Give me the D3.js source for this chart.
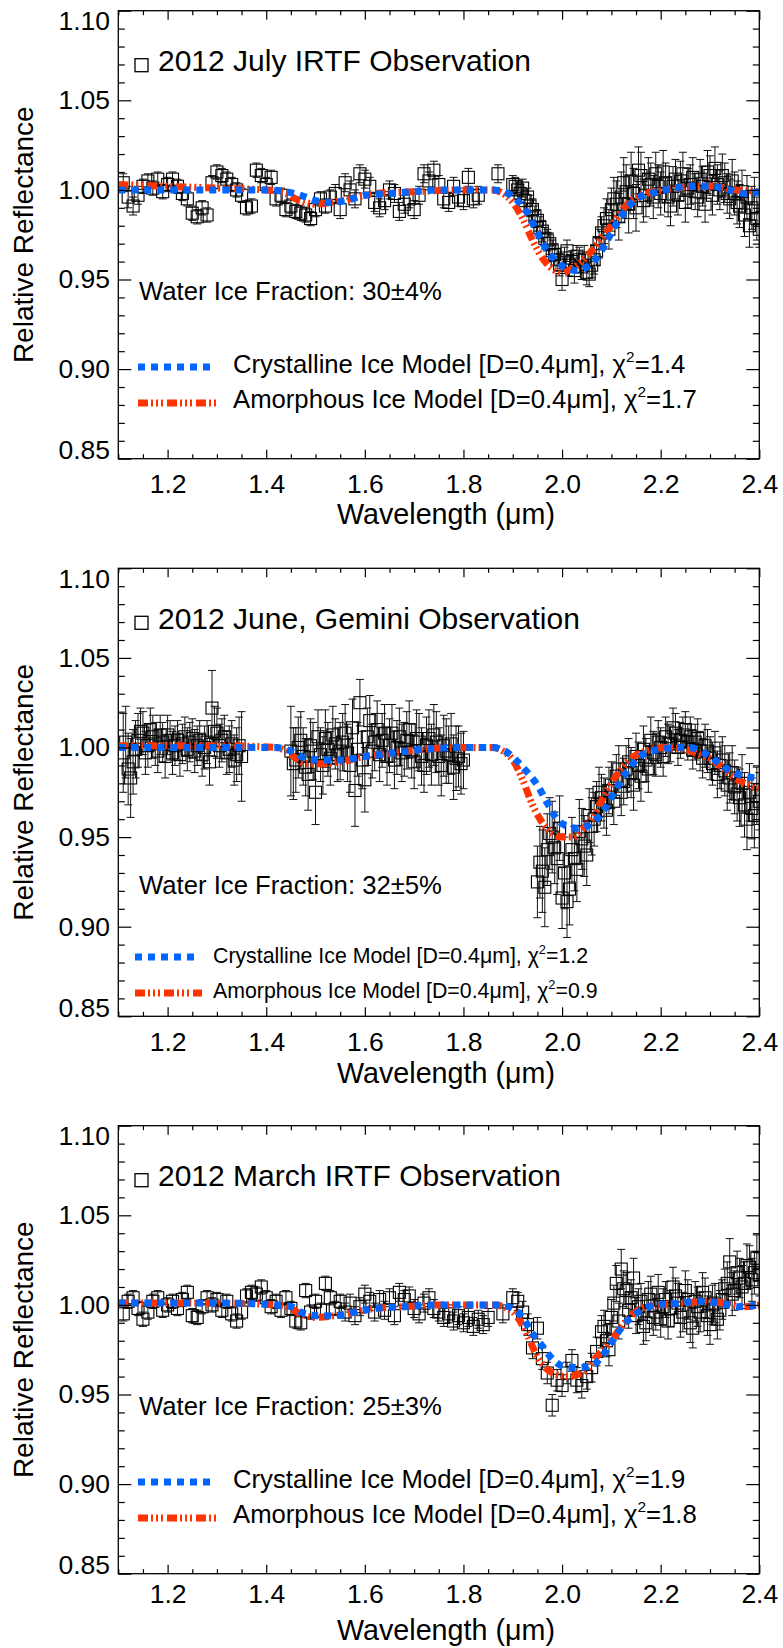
<!DOCTYPE html>
<html>
<head>
<meta charset="utf-8"/>
<style>
body { margin: 0; background: #fff; }
svg { display: block; font-family: "Liberation Sans", Arial, Helvetica, sans-serif; }
</style>
</head>
<body>
<svg id="chart" width="783" height="1648"></svg>
<script src="https://cdn.jsdelivr.net/npm/d3@7/dist/d3.min.js"></script>
<script>
// observed spectra: [wavelength (um), relative reflectance, 1-sigma error]
const julyObs = [
  [1.11,1.004,.005],[1.12,0.996,.006],[1.13,0.991,.005],[1.14,0.997,.005],[1.15,1.002,.004],[1.16,1.005,.004],
  [1.17,1.001,.004],[1.18,1.006,.004],[1.19,0.999,.004],[1.20,1.003,.004],[1.21,1.006,.004],[1.22,1.002,.004],
  [1.23,0.998,.004],[1.24,0.995,.004],[1.25,0.987,.004],[1.26,0.985,.004],[1.27,0.990,.004],[1.28,0.986,.004],
  [1.29,1.004,.004],[1.30,1.010,.004],[1.31,1.008,.004],[1.32,1.006,.004],[1.33,1.003,.004],[1.34,1.000,.004],
  [1.35,0.997,.004],[1.36,0.990,.004],[1.37,0.991,.004],[1.38,1.011,.004],[1.39,1.008,.004],[1.40,1.003,.004],
  [1.41,1.007,.004],[1.42,0.995,.004],[1.43,0.997,.004],[1.44,0.989,.004],[1.45,0.991,.004],[1.46,0.988,.004],
  [1.47,0.987,.004],[1.48,0.986,.004],[1.49,0.984,.004],[1.50,0.989,.004],[1.51,0.995,.004],[1.52,0.991,.004],
  [1.53,0.996,.004],[1.54,0.998,.005],[1.55,0.989,.005],[1.56,1.004,.005],[1.57,1.000,.005],[1.58,0.995,.005],
  [1.59,1.009,.005],[1.60,1.006,.005],[1.61,1.002,.005],[1.62,0.993,.005],[1.63,0.990,.005],[1.64,0.994,.005],
  [1.65,1.000,.005],[1.66,0.998,.005],[1.67,0.988,.005],[1.68,0.992,.005],[1.69,0.995,.005],[1.70,0.989,.005],
  [1.71,0.997,.005],[1.72,1.009,.005],[1.73,1.005,.005],[1.74,1.011,.005],[1.75,1.003,.005],[1.76,0.995,.005],
  [1.77,0.993,.005],[1.78,1.002,.005],[1.79,0.996,.005],[1.80,0.994,.005],[1.81,1.007,.005],[1.82,0.995,.005],
  [1.83,0.997,.005],[1.87,1.009,.005],[1.90,1.003,.005],[1.91,1.000,.005],[1.92,1.001,.005],[1.93,0.996,.005],
  [1.94,0.989,.006],[1.95,0.983,.006],[1.96,0.977,.006],[1.97,0.972,.006],[1.98,0.966,.006],[1.99,0.961,.006],
  [2.00,0.950,.006],[2.01,0.966,.006],[2.02,0.960,.006],[2.03,0.963,.006],[2.04,0.957,.007],[2.05,0.954,.007],
  [2.06,0.958,.007],[2.07,0.966,.008],[2.08,0.976,.009],[2.09,0.984,.011],[2.10,0.989,.012],[2.11,0.992,.013],
  [2.12,0.996,.014],[2.13,0.999,.015],[2.14,1.005,.016],[2.15,0.990,.013],[2.16,1.008,.013],[2.17,0.997,.012],
  [2.18,1.003,.012],[2.19,1.009,.012],[2.20,0.998,.012],[2.21,1.004,.011],[2.22,0.991,.011],[2.23,1.006,.011],
  [2.24,1.005,.011],[2.25,0.993,.011],[2.26,1.003,.011],[2.27,0.999,.010],[2.28,1.006,.011],[2.29,0.992,.010],
  [2.30,1.008,.011],[2.31,1.012,.012],[2.32,1.000,.011],[2.33,1.004,.011],[2.34,0.995,.011],[2.35,0.998,.012],
  [2.36,0.991,.012],[2.37,0.986,.012],[2.38,0.980,.012],[2.39,0.995,.012],[2.40,0.978,.010],
  // interleaved half-step samples
  [1.905,1.002,.005],[1.915,0.998,.005],[1.925,0.994,.006],[1.935,0.991,.006],[1.945,0.985,.006],[1.955,0.979,.006],
  [1.965,0.973,.006],[1.975,0.970,.006],[1.985,0.964,.006],[1.995,0.958,.006],[2.005,0.962,.006],[2.015,0.958,.006],
  [2.025,0.955,.007],[2.035,0.961,.007],[2.045,0.962,.007],[2.055,0.953,.007],[2.065,0.961,.008],[2.075,0.970,.008],
  [2.085,0.980,.010],[2.095,0.978,.011],[2.105,0.995,.012],[2.115,0.985,.013],[2.125,1.004,.014],[2.135,0.992,.016],
  [2.145,0.998,.014],[2.155,1.011,.013],[2.165,0.994,.012],[2.175,1.006,.012],[2.185,0.996,.012],[2.195,1.002,.012],
  [2.205,1.010,.012],[2.215,0.996,.011],[2.225,1.002,.011],[2.235,0.997,.011],[2.245,1.009,.012],[2.255,1.001,.011],
  [2.265,1.007,.011],[2.275,0.996,.011],[2.285,1.002,.011],[2.295,1.010,.012],[2.305,0.997,.011],[2.315,1.003,.011],
  [2.325,1.008,.012],[2.335,0.998,.011],[2.345,1.005,.012],[2.355,0.993,.012],[2.365,0.999,.012],[2.375,0.996,.012],
  [2.385,0.990,.012],[2.395,0.984,.012]
];
const juneObs = [
  [1.11,0.997,.022],[1.12,0.988,.020],[1.13,0.992,.018],[1.14,1.004,.015],[1.15,1.008,.012],[1.16,1.001,.012],
  [1.17,1.006,.012],[1.18,0.998,.012],[1.19,1.003,.011],[1.20,1.007,.011],[1.21,0.997,.012],[1.22,1.004,.011],
  [1.23,1.002,.011],[1.24,0.999,.012],[1.25,1.005,.011],[1.26,1.001,.011],[1.27,0.996,.012],[1.28,1.003,.012],
  [1.29,1.022,.021],[1.30,1.008,.014],[1.31,1.004,.012],[1.32,0.997,.012],[1.33,1.002,.013],[1.34,0.996,.015],
  [1.35,0.995,.025],
  [1.45,0.998,.025],[1.46,0.993,.018],[1.47,1.004,.016],[1.48,0.989,.016],[1.49,1.001,.015],[1.50,0.975,.018],
  [1.51,0.996,.015],[1.52,1.005,.016],[1.53,0.994,.015],[1.54,1.002,.014],[1.55,0.998,.016],[1.56,1.008,.016],
  [1.57,0.990,.015],[1.58,0.976,.020],[1.59,1.025,.013],[1.60,0.982,.018],[1.61,1.015,.014],[1.62,1.003,.016],
  [1.63,0.996,.015],[1.64,1.008,.016],[1.65,1.001,.015],[1.66,0.993,.016],[1.67,1.006,.016],[1.68,0.999,.015],
  [1.69,1.010,.016],[1.70,0.992,.015],[1.71,1.003,.016],[1.72,0.990,.015],[1.73,1.005,.016],[1.74,1.007,.017],
  [1.75,0.995,.016],[1.76,1.001,.017],[1.77,0.996,.016],[1.78,0.989,.018],[1.79,0.995,.017],[1.80,0.993,.016],
  [1.95,0.925,.020],[1.96,0.931,.023],[1.97,0.943,.020],[1.98,0.950,.020],[1.99,0.938,.020],[2.00,0.916,.017],
  [2.01,0.914,.020],[2.02,0.943,.018],[2.03,0.932,.018],[2.04,0.949,.017],[2.05,0.940,.017],[2.06,0.956,.016],
  [2.07,0.967,.014],[2.08,0.972,.013],[2.09,0.965,.014],[2.10,0.979,.013],[2.11,0.984,.012],[2.12,0.975,.013],
  [2.13,0.988,.013],[2.14,0.986,.014],[2.15,0.995,.013],[2.16,0.984,.014],[2.17,0.993,.012],[2.18,1.004,.013],
  [2.19,0.996,.012],[2.20,1.000,.011],[2.21,1.006,.011],[2.22,1.002,.010],[2.23,1.008,.011],[2.24,1.004,.010],
  [2.25,1.010,.010],[2.26,1.006,.011],[2.27,1.003,.010],[2.28,0.998,.011],[2.29,1.001,.012],[2.30,0.994,.012],
  [2.31,0.997,.012],[2.32,0.990,.013],[2.33,0.987,.014],[2.34,0.983,.014],[2.35,0.978,.015],[2.36,0.972,.016],
  [2.37,0.968,.018],[2.38,0.975,.016],[2.39,0.962,.018],[2.40,0.970,.016],
  // interleaved half-step samples
  [1.115,1.003,.020],[1.125,0.983,.022],[1.135,0.999,.016],[1.145,1.009,.013],[1.155,0.997,.012],[1.165,1.010,.012],
  [1.175,1.002,.012],[1.185,1.007,.011],[1.195,0.995,.012],[1.205,1.004,.011],[1.215,1.001,.011],[1.225,0.996,.012],
  [1.235,1.006,.011],[1.245,1.003,.011],[1.255,0.998,.012],[1.265,1.004,.011],[1.275,1.000,.012],[1.285,0.992,.013],
  [1.295,1.009,.014],[1.305,1.001,.012],[1.315,1.006,.012],[1.325,0.999,.013],[1.335,0.993,.014],[1.345,1.001,.016],
  [1.455,0.991,.020],[1.465,1.000,.017],[1.475,0.995,.016],[1.485,0.985,.020],[1.495,0.998,.016],[1.505,1.006,.015],
  [1.515,0.990,.016],[1.525,0.999,.015],[1.535,1.007,.016],[1.545,0.996,.015],[1.555,1.003,.016],[1.565,0.997,.016],
  [1.575,1.011,.016],[1.585,0.999,.015],[1.595,0.993,.016],[1.605,1.006,.016],[1.615,0.998,.015],[1.625,1.010,.016],
  [1.635,1.004,.015],[1.645,0.995,.016],[1.655,1.008,.016],[1.665,1.000,.015],[1.675,0.997,.016],[1.685,1.004,.016],
  [1.695,0.998,.015],[1.705,1.005,.016],[1.715,0.995,.016],[1.725,1.001,.016],[1.735,0.996,.017],[1.745,1.003,.017],
  [1.755,0.990,.017],[1.765,0.998,.018],[1.775,1.002,.017],[1.785,0.994,.018],[1.795,0.991,.017],
  [1.955,0.936,.020],[1.965,0.922,.022],[1.975,0.952,.020],[1.985,0.944,.020],[1.995,0.955,.018],[2.005,0.930,.020],
  [2.015,0.921,.020],[2.025,0.938,.018],[2.035,0.953,.018],[2.045,0.945,.017],[2.055,0.962,.015],[2.065,0.960,.015],
  [2.075,0.975,.014],[2.085,0.969,.014],[2.095,0.976,.013],[2.105,0.970,.013],[2.115,0.988,.013],[2.125,0.981,.013],
  [2.135,0.992,.013],[2.145,0.979,.014],[2.155,0.990,.013],[2.165,0.999,.013],[2.175,0.988,.013],[2.185,0.997,.012],
  [2.195,1.003,.012],[2.205,0.995,.011],[2.215,1.002,.011],[2.225,1.011,.011],[2.235,1.000,.010],[2.245,1.007,.010],
  [2.255,1.003,.010],[2.265,0.999,.011],[2.275,1.005,.011],[2.285,0.994,.011],[2.295,0.998,.012],[2.305,0.991,.012],
  [2.315,0.985,.013],[2.325,0.993,.013],[2.335,0.979,.014],[2.345,0.986,.015],[2.355,0.974,.015],[2.365,0.980,.016],
  [2.375,0.960,.017],[2.385,0.966,.017],[2.395,0.973,.016]
];
const marchObs = [
  [1.11,0.995,.004],[1.12,1.002,.004],[1.13,1.004,.004],[1.14,0.998,.004],[1.15,0.992,.004],[1.16,0.996,.004],
  [1.17,1.002,.004],[1.18,1.004,.004],[1.19,0.997,.004],[1.20,1.000,.004],[1.21,1.002,.004],[1.22,0.998,.004],
  [1.23,1.003,.004],[1.24,1.007,.004],[1.25,0.994,.004],[1.26,0.993,.004],[1.27,0.999,.004],[1.28,1.004,.004],
  [1.29,1.000,.004],[1.30,1.003,.004],[1.31,0.997,.004],[1.32,1.002,.004],[1.33,0.995,.004],[1.34,0.991,.004],
  [1.35,0.996,.004],[1.36,1.005,.004],[1.37,1.007,.004],[1.38,1.006,.004],[1.39,1.010,.004],[1.40,1.004,.004],
  [1.41,0.999,.004],[1.42,1.002,.004],[1.43,0.997,.004],[1.44,1.004,.004],[1.45,0.998,.004],[1.46,0.991,.004],
  [1.47,0.990,.004],[1.48,1.008,.004],[1.49,0.996,.004],[1.50,1.002,.004],[1.51,0.997,.004],[1.52,1.012,.004],
  [1.53,1.004,.004],[1.54,0.998,.004],[1.55,1.002,.004],[1.56,0.996,.005],[1.57,1.001,.005],[1.58,0.994,.005],
  [1.59,0.999,.005],[1.60,1.006,.005],[1.61,1.002,.005],[1.62,0.996,.005],[1.63,1.003,.005],[1.64,0.997,.005],
  [1.65,1.004,.005],[1.66,0.994,.005],[1.67,1.007,.005],[1.68,1.003,.005],[1.69,1.005,.005],[1.70,0.998,.005],
  [1.71,0.995,.005],[1.72,1.001,.005],[1.73,1.004,.005],[1.74,0.998,.005],[1.75,0.996,.005],[1.76,0.993,.005],
  [1.77,0.995,.005],[1.78,0.991,.005],[1.79,0.994,.005],[1.80,0.990,.005],[1.81,0.993,.005],[1.82,0.988,.005],
  [1.83,0.992,.005],[1.84,0.989,.005],[1.85,0.993,.005],[1.88,0.995,.005],[1.90,1.004,.005],[1.91,1.002,.005],
  [1.92,0.996,.006],[1.93,0.989,.006],[1.94,0.976,.006],[1.95,0.987,.006],[1.96,0.970,.006],[1.97,0.962,.006],
  [1.98,0.944,.006],[1.99,0.958,.006],[2.00,0.955,.006],[2.01,0.962,.006],[2.02,0.969,.006],[2.03,0.958,.007],
  [2.04,0.955,.007],[2.05,0.960,.007],[2.06,0.965,.008],[2.07,0.974,.008],[2.08,0.985,.009],[2.09,0.980,.009],
  [2.10,0.993,.010],[2.11,1.012,.010],[2.12,1.020,.011],[2.13,1.008,.010],[2.14,1.004,.010],[2.15,0.994,.010],
  [2.16,1.002,.010],[2.17,0.990,.010],[2.18,1.006,.010],[2.19,0.996,.010],[2.20,0.992,.010],[2.21,1.003,.010],
  [2.22,0.998,.010],[2.23,1.005,.010],[2.24,0.993,.011],[2.25,1.008,.011],[2.26,0.990,.011],[2.27,1.002,.011],
  [2.28,0.996,.011],[2.29,1.004,.011],[2.30,0.989,.011],[2.31,1.001,.011],[2.32,0.997,.011],[2.33,1.009,.011],
  [2.34,1.024,.013],[2.35,1.008,.011],[2.36,1.015,.011],[2.37,1.012,.012],[2.38,1.021,.012],[2.39,1.018,.012],
  [2.40,1.017,.012],
  // interleaved half-step samples
  [2.085,0.988,.009],[2.095,0.975,.009],[2.105,1.001,.010],[2.115,0.991,.010],[2.125,1.009,.010],[2.135,0.997,.010],
  [2.145,1.015,.011],[2.155,0.999,.010],[2.165,0.988,.010],[2.175,1.003,.010],[2.185,0.993,.010],[2.195,1.007,.010],
  [2.205,0.999,.010],[2.215,0.991,.010],[2.225,1.010,.011],[2.235,1.001,.011],[2.245,0.996,.011],[2.255,1.003,.011],
  [2.265,0.987,.011],[2.275,0.999,.011],[2.285,1.007,.011],[2.295,0.994,.011],[2.305,1.000,.011],[2.315,0.992,.011],
  [2.325,1.003,.011],[2.335,1.012,.012],[2.345,1.006,.012],[2.355,1.018,.012],[2.365,1.010,.012],[2.375,1.022,.012],
  [2.385,1.014,.012],[2.395,1.026,.013]
];

// model spectra: [wavelength (um), relative reflectance]
const julyCrys = [
  [1.10,1.000],[1.20,1.000],[1.30,1.000],[1.40,1.000],[1.44,0.999],[1.47,0.997],[1.50,0.994],[1.53,0.993],
  [1.56,0.994],[1.60,0.997],[1.65,0.998],[1.70,0.999],[1.75,1.000],[1.86,1.000],[1.89,0.998],[1.91,0.994],
  [1.93,0.987],[1.95,0.976],[1.97,0.966],[1.99,0.960],[2.01,0.956],[2.03,0.955],[2.05,0.957],[2.07,0.962],
  [2.09,0.971],[2.11,0.981],[2.13,0.989],[2.15,0.995],[2.18,0.998],[2.21,1.000],[2.26,1.002],[2.30,1.002],
  [2.34,1.000],[2.37,0.998],[2.40,0.999]
];
const julyAmor = [
  [1.10,1.003],[1.20,1.002],[1.30,1.001],[1.40,1.000],[1.44,0.998],[1.46,0.995],[1.48,0.993],[1.50,0.992],
  [1.53,0.993],[1.57,0.995],[1.62,0.998],[1.70,0.999],[1.80,1.000],[1.86,1.000],[1.88,0.998],[1.90,0.993],
  [1.92,0.984],[1.94,0.972],[1.96,0.962],[1.98,0.956],[2.00,0.954],[2.02,0.956],[2.04,0.960],[2.06,0.966],
  [2.08,0.973],[2.10,0.980],[2.12,0.988],[2.14,0.994],[2.17,0.998],[2.21,1.000],[2.27,1.002],[2.31,1.002],
  [2.35,1.000],[2.40,0.999]
];
const juneCrys = [
  [1.10,1.000],[1.30,1.000],[1.42,1.000],[1.45,0.998],[1.48,0.994],[1.51,0.993],[1.55,0.993],[1.60,0.995],
  [1.66,0.997],[1.72,0.999],[1.80,1.000],[1.86,1.000],[1.89,0.997],[1.91,0.992],[1.93,0.986],[1.95,0.979],
  [1.97,0.969],[1.99,0.960],[2.01,0.956],[2.03,0.955],[2.05,0.956],[2.07,0.960],[2.09,0.967],[2.11,0.977],
  [2.13,0.986],[2.15,0.993],[2.17,0.997],[2.20,0.999],[2.23,1.000],[2.26,1.000],[2.28,0.998],[2.30,0.995],
  [2.32,0.991],[2.34,0.987],[2.37,0.984],[2.40,0.983]
];
const juneAmor = [
  [1.10,1.001],[1.30,1.001],[1.42,1.000],[1.44,0.998],[1.46,0.994],[1.48,0.991],[1.51,0.991],[1.55,0.992],
  [1.60,0.995],[1.66,0.997],[1.72,0.999],[1.80,1.000],[1.86,1.000],[1.88,0.998],[1.90,0.993],[1.92,0.982],
  [1.94,0.968],[1.96,0.958],[1.98,0.952],[2.00,0.950],[2.02,0.950],[2.04,0.954],[2.06,0.960],[2.08,0.970],
  [2.10,0.980],[2.12,0.988],[2.14,0.994],[2.17,0.998],[2.21,1.000],[2.25,0.999],[2.28,0.996],[2.30,0.994],
  [2.32,0.990],[2.35,0.983],[2.38,0.979],[2.40,0.977]
];
const marchCrys = [
  [1.10,1.001],[1.30,1.001],[1.42,1.000],[1.45,0.999],[1.47,0.996],[1.50,0.994],[1.54,0.994],[1.58,0.996],
  [1.62,0.998],[1.68,0.999],[1.75,1.000],[1.87,1.000],[1.90,0.998],[1.92,0.993],[1.94,0.984],[1.96,0.977],
  [1.98,0.970],[2.00,0.966],[2.03,0.965],[2.06,0.966],[2.08,0.971],[2.10,0.979],[2.12,0.987],[2.14,0.993],
  [2.16,0.997],[2.19,1.000],[2.24,1.001],[2.28,1.002],[2.32,1.001],[2.36,0.999],[2.40,1.000]
];
const marchAmor = [
  [1.10,1.001],[1.30,1.001],[1.42,1.000],[1.45,0.998],[1.47,0.995],[1.50,0.993],[1.54,0.994],[1.58,0.996],
  [1.62,0.998],[1.68,0.999],[1.75,1.000],[1.86,1.000],[1.89,0.998],[1.91,0.993],[1.93,0.983],[1.95,0.971],
  [1.97,0.964],[1.99,0.961],[2.01,0.960],[2.03,0.961],[2.05,0.964],[2.07,0.971],[2.09,0.977],[2.11,0.984],
  [2.13,0.991],[2.16,0.998],[2.20,1.000],[2.25,1.001],[2.29,1.002],[2.33,1.001],[2.37,0.999],[2.40,1.000]
];

const panelTitles = ["2012 July IRTF Observation", "2012 June, Gemini Observation", "2012 March IRTF Observation"];
const iceFractions = ["30±4%", "32±5%", "25±3%"];
const chiCrys = ["1.4", "1.2", "1.9"];
const chiAmor = ["1.7", "0.9", "1.8"];
const xTicks = [1.2, 1.4, 1.6, 1.8, 2.0, 2.2, 2.4];
const yTicks = [0.85, 0.90, 0.95, 1.00, 1.05, 1.10];

const obsSets = [julyObs, juneObs, marchObs];
const crysSets = [julyCrys, juneCrys, marchCrys];
const amorSets = [julyAmor, juneAmor, marchAmor];

// layout
const plotLeft = 118.3, plotRight = 759.3, plotH = 448;
const panelTops = [10.7, 568.3, 1125.7];
const xLabelPad = [15.5, 15.5, 10.5];
const xTitleOff = [65.5, 67, 66.5];
const blue = "#0066ff", red = "#ff3300";
const crysDash = "7,6";
const amorDash = "10,3,2,3,2,3,2,4";
const fam = '"Liberation Sans", Arial, Helvetica, sans-serif';

const svg = d3.select("#chart");
const x = d3.scaleLinear().domain([1.1, 2.4]).range([plotLeft, plotRight]);

function chiLabel(sel, label, chi, size) {
  sel.append("tspan").text(label + ", χ");
  sel.append("tspan").attr("dy", -0.42 * size).attr("font-size", size * 0.6).text("2");
  sel.append("tspan").attr("dy", 0.42 * size).text("=" + chi);
}

panelTops.forEach((top, i) => {
  const y = d3.scaleLinear().domain([0.85, 1.10]).range([top + plotH, top]);
  const g = svg.append("g");

  svg.append("clipPath").attr("id", "clip" + i)
    .append("rect")
      .attr("x", plotLeft).attr("y", top)
      .attr("width", plotRight - plotLeft).attr("height", plotH);
  const plot = g.append("g").attr("clip-path", `url(#clip${i})`);

  // error bars + hollow squares
  const pts = plot.append("g").selectAll("g").data(obsSets[i]).join("g")
      .attr("stroke", "#111").attr("fill", "none");
  pts.append("line")
      .attr("x1", d => x(d[0])).attr("x2", d => x(d[0]))
      .attr("y1", d => y(d[1] - d[2])).attr("y2", d => y(d[1] + d[2]))
      .attr("stroke-width", 1);
  pts.append("path")
      .attr("d", d => {
        const cx = x(d[0]), lo = y(d[1] - d[2]), hi = y(d[1] + d[2]);
        return `M${cx - 4},${lo}H${cx + 4}M${cx - 4},${hi}H${cx + 4}`;
      })
      .attr("stroke-width", 1);
  pts.append("rect")
      .attr("x", d => x(d[0]) - 6).attr("y", d => y(d[1]) - 6)
      .attr("width", 12).attr("height", 12)
      .attr("stroke", "#000").attr("stroke-width", 1.1);

  const line = d3.line().x(d => x(d[0])).y(d => y(d[1])).curve(d3.curveMonotoneX);
  plot.append("path").datum(amorSets[i])
      .attr("d", line).attr("fill", "none")
      .attr("stroke", red).attr("stroke-width", 7).attr("stroke-dasharray", amorDash);
  plot.append("path").datum(crysSets[i])
      .attr("d", line).attr("fill", "none")
      .attr("stroke", blue).attr("stroke-width", 7).attr("stroke-dasharray", crysDash);

  // axes, ticks pointing inward on all four sides
  const xMinor = x.ticks(26).filter(t => !xTicks.some(m => Math.abs(m - t) < 1e-6));
  const yMinor = y.ticks(25).filter(t => !yTicks.some(m => Math.abs(m - t) < 1e-6));
  const styleAxis = a => {
    a.select(".domain").remove();
    a.attr("font-size", 26.5).attr("font-family", fam);
    a.selectAll("line").attr("stroke-width", 1.2);
    a.selectAll("text").attr("fill", "#000");
  };
  const none = () => "";

  g.append("g").attr("transform", `translate(0,${top + plotH})`)
    .call(d3.axisBottom(x).tickValues(xTicks).tickSize(-9).tickSizeOuter(0)
      .tickPadding(xLabelPad[i]).tickFormat(d3.format(".1f")))
    .call(styleAxis);
  g.append("g").attr("transform", `translate(0,${top + plotH})`)
    .call(d3.axisBottom(x).tickValues(xMinor).tickSize(-4.5).tickSizeOuter(0).tickFormat(none))
    .call(styleAxis);
  g.append("g").attr("transform", `translate(0,${top})`)
    .call(d3.axisTop(x).tickValues(xTicks).tickSize(-9).tickSizeOuter(0).tickFormat(none))
    .call(styleAxis);
  g.append("g").attr("transform", `translate(0,${top})`)
    .call(d3.axisTop(x).tickValues(xMinor).tickSize(-4.5).tickSizeOuter(0).tickFormat(none))
    .call(styleAxis);

  const yAx = g.append("g").attr("transform", `translate(${plotLeft},0)`)
    .call(d3.axisLeft(y).tickValues(yTicks).tickSize(-13).tickSizeOuter(0)
      .tickPadding(8.3).tickFormat(d3.format(".2f")))
    .call(styleAxis);
  // keep the end labels inside the frame
  yAx.selectAll(".tick text")
    .attr("dy", d => Math.abs(d - 1.10) < 1e-6 ? "0.71em" : Math.abs(d - 0.85) < 1e-6 ? "0em" : "0.32em");
  g.append("g").attr("transform", `translate(${plotLeft},0)`)
    .call(d3.axisLeft(y).tickValues(yMinor).tickSize(-6.5).tickSizeOuter(0).tickFormat(none))
    .call(styleAxis);
  g.append("g").attr("transform", `translate(${plotRight},0)`)
    .call(d3.axisRight(y).tickValues(yTicks).tickSize(-13).tickSizeOuter(0).tickFormat(none))
    .call(styleAxis);
  g.append("g").attr("transform", `translate(${plotRight},0)`)
    .call(d3.axisRight(y).tickValues(yMinor).tickSize(-6.5).tickSizeOuter(0).tickFormat(none))
    .call(styleAxis);

  // frame
  g.append("rect")
      .attr("x", plotLeft).attr("y", top)
      .attr("width", plotRight - plotLeft).attr("height", plotH)
      .attr("fill", "none").attr("stroke", "#000").attr("stroke-width", 1.3);

  // axis titles
  g.append("text")
      .attr("transform", `translate(33,${top + plotH / 2}) rotate(-90)`)
      .attr("text-anchor", "middle").attr("font-size", 28)
      .text("Relative Reflectance");
  g.append("text")
      .attr("x", 446).attr("y", top + plotH + xTitleOff[i])
      .attr("text-anchor", "middle").attr("font-size", 28.7)
      .text("Wavelength (μm)");

  // annotations
  g.append("rect")
      .attr("x", 135).attr("y", top + 48).attr("width", 13).attr("height", 13)
      .attr("fill", "none").attr("stroke", "#000").attr("stroke-width", 1.3);
  g.append("text")
      .attr("x", 158).attr("y", top + 60.3).attr("font-size", 30)
      .text(panelTitles[i]);
  const fracY = i === 1 ? 325.7 : 289.3;
  g.append("text")
      .attr("x", 139).attr("y", top + fracY).attr("font-size", 25.7)
      .text("Water Ice Fraction: " + iceFractions[i]);

  const small = i === 1;
  const lg = small
    ? { x0: 135, x1b: 195, x1r: 202, tx: 213, yb: 388.7, yr: 424.7, size: 21.3 }
    : { x0: 138, x1b: 213, x1r: 216, tx: 233, yb: 356.3, yr: 392.3, size: 25.7 };
  g.append("line")
      .attr("x1", lg.x0).attr("x2", lg.x1b).attr("y1", top + lg.yb).attr("y2", top + lg.yb)
      .attr("stroke", blue).attr("stroke-width", 7).attr("stroke-dasharray", crysDash);
  g.append("line")
      .attr("x1", lg.x0).attr("x2", lg.x1r).attr("y1", top + lg.yr).attr("y2", top + lg.yr)
      .attr("stroke", red).attr("stroke-width", 7).attr("stroke-dasharray", amorDash);
  g.append("text")
      .attr("x", lg.tx).attr("y", top + lg.yb + 6).attr("font-size", lg.size)
      .call(chiLabel, "Crystalline Ice Model [D=0.4μm]", chiCrys[i], lg.size);
  g.append("text")
      .attr("x", lg.tx).attr("y", top + lg.yr + 5.2).attr("font-size", lg.size)
      .call(chiLabel, "Amorphous Ice Model [D=0.4μm]", chiAmor[i], lg.size);
});
</script>
</body>
</html>
